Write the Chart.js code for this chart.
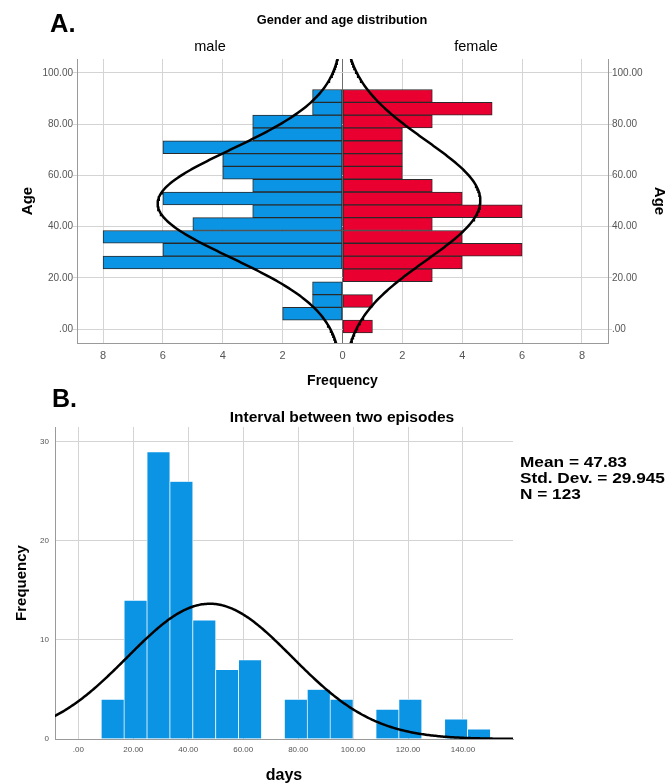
<!DOCTYPE html>
<html>
<head>
<meta charset="utf-8">
<script src="https://cdn.jsdelivr.net/npm/chart.js@4.4.0/dist/chart.umd.min.js"></script>
<style>
  body { margin: 0; background: #fff; font-family: 'Liberation Sans', Arial, sans-serif; }
  #page { position: relative; width: 668px; height: 784px; overflow: hidden; }
  canvas { position: absolute; left: 0; }
  .lbl { position: absolute; white-space: nowrap; color: #000; line-height: 1; }
  .c { transform: translate(-50%, -50%); }
  .m { transform: translateY(-50%); }
</style>
</head>
<body>
<div id="page">
  <canvas id="pyramid" width="668" height="392" style="top:0"></canvas>
  <canvas id="histo" width="668" height="392" style="top:392px"></canvas>

  <div class="lbl m" style="left:50px;top:24px;font-size:25.5px;font-weight:bold">A.</div>
  <div class="lbl c" style="left:342px;top:20px;font-size:12.8px;font-weight:bold">Gender and age distribution</div>
  <div class="lbl c" style="left:210px;top:46px;font-size:14.5px">male</div>
  <div class="lbl c" style="left:476px;top:46px;font-size:14.5px">female</div>

  <div class="lbl m" style="left:52px;top:398px;font-size:25px;font-weight:bold">B.</div>
  <div class="lbl c" style="left:342px;top:417px;font-size:14px;font-weight:bold;transform:translate(-50%,-50%) scaleX(1.11)">Interval between two episodes</div>
  <div class="lbl" style="left:520px;top:454px;font-size:15px;font-weight:bold;line-height:16px;transform:scaleX(1.15);transform-origin:left top">
    Mean = 47.83<br>Std. Dev. = 29.945<br>N = 123
  </div>
</div>
<script>
Chart.defaults.font.family = "'Liberation Sans', Arial, sans-serif";
Chart.defaults.animation = false;

// ---- panel A: age pyramid (bins of 5 years, listed from youngest up)
var ageBins = [1, 6, 11, 16, 21, 26, 31, 36, 41, 46, 51, 56, 61, 66, 71, 76, 81, 86, 91];
var maleCounts = [0, 2, 1, 1, 0, 8, 6, 8, 5, 3, 6, 3, 4, 4, 6, 3, 3, 1, 1];
var femaleCounts = [1, 0, 1, 0, 3, 4, 6, 4, 3, 6, 4, 3, 2, 2, 2, 2, 3, 5, 3];

// normal curves as drawn by SPSS (estimated fit)
var maleFit = { mean: 49, sd: 21, n: 65, width: 5 };
var femaleFit = { mean: 50.2, sd: 23.4, n: 54, width: 5 };

// ---- panel B: interval histogram
var dayBins = [12.5, 20.83, 29.17, 37.5, 45.83, 54.17, 62.5, 70.83, 79.17, 87.5, 95.83, 104.17, 112.5, 120.83, 129.17, 137.5, 145.83];
var dayCounts = [4, 14, 29, 26, 12, 7, 8, 0, 4, 5, 4, 0, 3, 4, 0, 2, 1];
var dayFit = { mean: 47.83, sd: 29.945, n: 123, width: 8.333 };

var blue = '#0a94e3';
var red = '#ea0030';
var gridCol = '#d4d4d4';
var axisCol = '#9a9a9a';
var tickCol = '#555';

function normalCurve(fit, from, to) {
  var pts = [];
  for (var v = from; v <= to; v += 0.5) {
    var z = (v - fit.mean) / fit.sd;
    pts.push({ v: v, f: fit.n * fit.width / (fit.sd * Math.sqrt(2 * Math.PI)) * Math.exp(-0.5 * z * z) });
  }
  return pts;
}

function decLabel(v) {
  return v === 0 ? '.00' : v.toFixed(2);
}

// ---------------- panel A
var maleData = ageBins.map(function (a, i) { return { y: a, x: -maleCounts[i] }; });
var femaleData = ageBins.map(function (a, i) { return { y: a, x: femaleCounts[i] }; });
var maleLine = normalCurve(maleFit, -8, 108).map(function (p) { return { y: p.v, x: -p.f }; });
var femaleLine = normalCurve(femaleFit, -8, 108).map(function (p) { return { y: p.v, x: p.f }; });

var ageTickOpts = {
  stepSize: 20, includeBounds: false, padding: 0,
  color: tickCol, font: { size: 10 },
  callback: decLabel
};

new Chart(document.getElementById('pyramid').getContext('2d'), {
  type: 'bar',
  data: {
    datasets: [
      { type: 'line', indexAxis: 'y', data: maleLine, borderColor: '#000', borderWidth: 2.5,
        pointRadius: 0, fill: false, order: 0, xAxisID: 'x', yAxisID: 'y' },
      { type: 'line', indexAxis: 'y', data: femaleLine, borderColor: '#000', borderWidth: 2.5,
        pointRadius: 0, fill: false, order: 0, xAxisID: 'x', yAxisID: 'y' },
      { label: 'male', data: maleData, backgroundColor: blue, borderColor: '#2a2a2a', borderWidth: 1,
        borderSkipped: false, grouped: false, barPercentage: 1, categoryPercentage: 1, order: 1 },
      { label: 'female', data: femaleData, backgroundColor: red, borderColor: '#2a2a2a', borderWidth: 1,
        borderSkipped: false, grouped: false, barPercentage: 1, categoryPercentage: 1, order: 1 }
    ]
  },
  options: {
    indexAxis: 'y',
    responsive: false,
    layout: { padding: { top: 59, left: 0, right: 0, bottom: 0 } },
    plugins: { legend: { display: false }, tooltip: { enabled: false } },
    scales: {
      x: {
        type: 'linear', min: -8.87, max: 8.87, offset: false,
        ticks: { stepSize: 2, includeBounds: false, padding: 6, color: tickCol, font: { size: 11 },
          callback: function (v) { return Math.abs(v); } },
        grid: { drawTicks: false, offset: false,
          color: function (c) { return c.tick && c.tick.value === 0 ? '#6e6e6e' : gridCol; } },
        border: { color: axisCol },
        title: { display: true, text: 'Frequency', color: '#000',
          font: { size: 14, weight: 'bold' }, padding: { top: 0, bottom: 2 } },
        afterFit: function (s) { s.height = 49; }
      },
      y: {
        type: 'linear', position: 'left', min: -5.4, max: 105.4, offset: false,
        ticks: ageTickOpts,
        grid: { color: gridCol, tickLength: 4, offset: false },
        border: { color: axisCol },
        title: { display: true, text: 'Age', color: '#000',
          font: { size: 15, weight: 'bold' }, padding: { top: 19, bottom: 0 } },
        afterFit: function (s) { s.width = 77; }
      },
      y2: {
        type: 'linear', position: 'right', min: -5.4, max: 105.4, offset: false,
        ticks: ageTickOpts,
        grid: { color: gridCol, tickLength: 4, drawOnChartArea: false, offset: false },
        border: { color: axisCol },
        title: { display: true, text: 'Age', color: '#000',
          font: { size: 15, weight: 'bold' }, padding: { top: 0, bottom: 0 } },
        afterFit: function (s) { s.width = 60; }
      }
    }
  }
});

// ---------------- panel B
var dayData = dayBins.map(function (d, i) { return { x: d, y: dayCounts[i] }; });
var dayLine = normalCurve(dayFit, -10, 160).map(function (p) { return { x: p.v, y: p.f }; });

new Chart(document.getElementById('histo').getContext('2d'), {
  type: 'bar',
  data: {
    datasets: [
      { type: 'line', data: dayLine, borderColor: '#000', borderWidth: 2.5, pointRadius: 0,
        fill: false, order: 0 },
      { label: 'days', data: dayData, backgroundColor: blue, borderColor: '#fff', borderWidth: 0.7,
        barPercentage: 1, categoryPercentage: 1, order: 1 }
    ]
  },
  options: {
    responsive: false,
    layout: { padding: { top: 35, left: 0, right: 155, bottom: 0 } },
    plugins: { legend: { display: false }, tooltip: { enabled: false } },
    scales: {
      x: {
        type: 'linear', min: -8.5, max: 158.2, offset: false,
        ticks: { stepSize: 20, includeBounds: false, padding: 6, color: tickCol, font: { size: 8 },
          callback: decLabel },
        grid: { color: gridCol, drawTicks: false, offset: false },
        border: { color: axisCol },
        title: { display: true, text: 'days', color: '#000',
          font: { size: 16, weight: 'bold', lineHeight: 1 }, padding: { top: 0, bottom: 0 } },
        afterFit: function (s) { s.height = 45; }
      },
      y: {
        type: 'linear', min: 0, max: 31.5,
        ticks: { stepSize: 10, includeBounds: false, padding: 6, color: tickCol, font: { size: 8 } },
        grid: { color: gridCol, drawTicks: false },
        border: { color: axisCol },
        title: { display: true, text: 'Frequency', color: '#000',
          font: { size: 15, weight: 'bold' }, padding: { top: 13, bottom: 0 } },
        afterFit: function (s) { s.width = 55; }
      }
    }
  }
});
</script>
</body>
</html>
